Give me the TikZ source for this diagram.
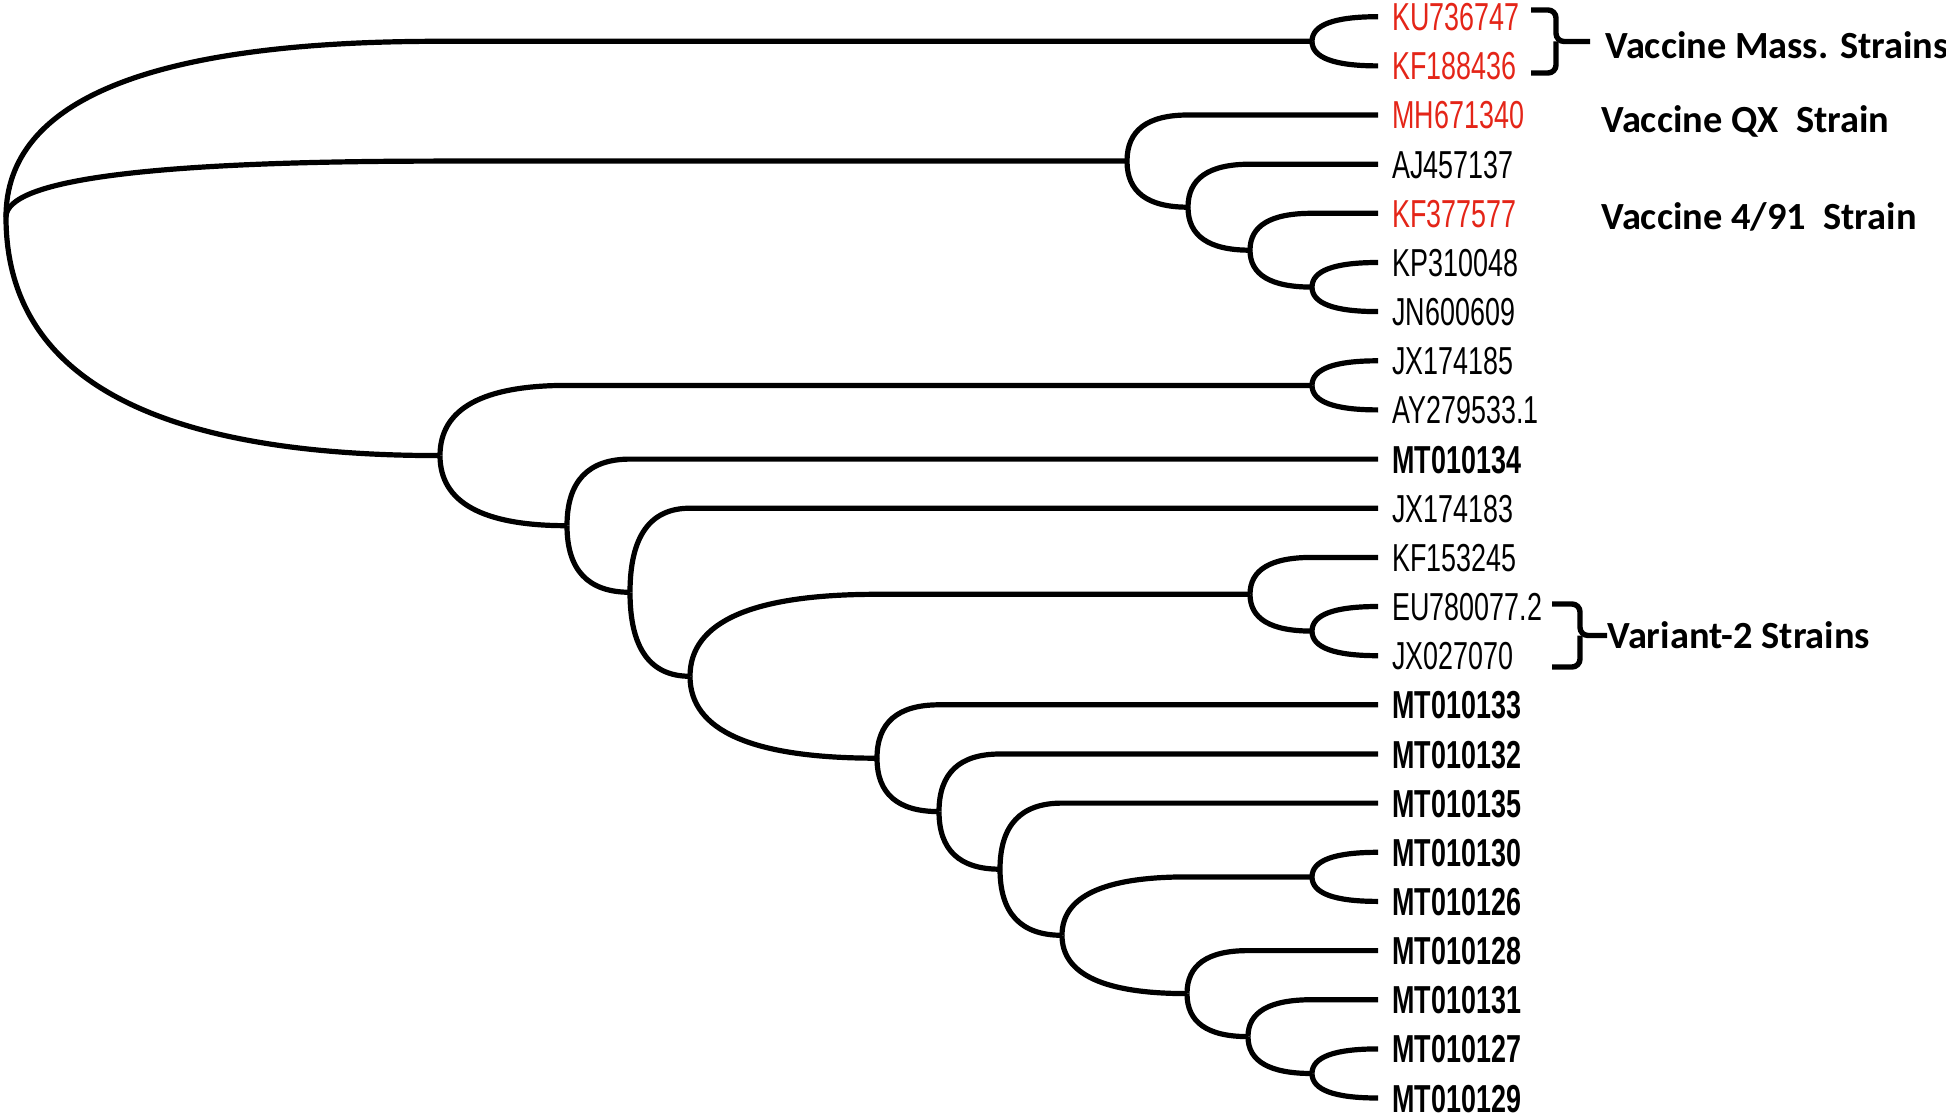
\documentclass[tikz,border=0pt]{standalone}
\usepackage{fontspec}
\setmainfont{Liberation Sans}
\newfontfamily\etiqfont[FakeStretch=0.69]{Liberation Sans}
\newfontfamily\annotfont{Carlito}
\usetikzlibrary{calc}

\definecolor{rouge}{RGB}{228,37,24}

\tikzset{
  arbre/.style={line width=2.6pt},
  accolade/.style={line width=2.7pt, rounded corners=4pt},
  feuille/.style={anchor=west, inner xsep=7pt, inner ysep=0pt, text height=14pt, text depth=0pt,
    font=\etiqfont\fontsize{19.5pt}{20pt}\selectfont},
  vaccin/.style={feuille, text=rouge},
  isolat/.style={feuille, font=\etiqfont\bfseries\fontsize{19.5pt}{20pt}\selectfont},
  groupe/.style={anchor=west, inner sep=0pt, font=\annotfont\bfseries\fontsize{19.2pt}{20pt}\selectfont}
}

% branche courbe : parent, enfant, largeur de la courbe
\newcommand{\branche}[3]{%
  \draw[arbre] (#1) .. controls ($(#1)!2/3!(#1 |- #2)$) and ($(#1 |- #2)+(#3/3,0)$) .. ($(#1 |- #2)+(#3,0)$) -- (#2);}

\begin{document}
\begin{tikzpicture}[x=0.5pt, y=-0.5pt]
    \useasboundingbox (0,0) rectangle (1946,1117);

    % Feuilles
    \node[vaccin] (l0) at (1378,16.7) {KU736747};
    \node[vaccin] (l1) at (1378,65.9) {KF188436};
    \node[vaccin] (l2) at (1378,115.0) {MH671340};
    \node[feuille] (l3) at (1378,164.2) {AJ457137};
    \node[vaccin] (l4) at (1378,213.3) {KF377577};
    \node[feuille] (l5) at (1378,262.5) {KP310048};
    \node[feuille] (l6) at (1378,311.6) {JN600609};
    \node[feuille] (l7) at (1378,360.8) {JX174185};
    \node[feuille] (l8) at (1378,409.9) {AY279533.1};
    \node[isolat] (l9) at (1378,459.1) {MT010134};
    \node[feuille] (l10) at (1378,508.2) {JX174183};
    \node[feuille] (l11) at (1378,557.4) {KF153245};
    \node[feuille] (l12) at (1378,606.5) {EU780077.2};
    \node[feuille] (l13) at (1378,655.7) {JX027070};
    \node[isolat] (l14) at (1378,704.8) {MT010133};
    \node[isolat] (l15) at (1378,754.0) {MT010132};
    \node[isolat] (l16) at (1378,803.1) {MT010135};
    \node[isolat] (l17) at (1378,852.3) {MT010130};
    \node[isolat] (l18) at (1378,901.4) {MT010126};
    \node[isolat] (l19) at (1378,950.6) {MT010128};
    \node[isolat] (l20) at (1378,999.7) {MT010131};
    \node[isolat] (l21) at (1378,1048.9) {MT010127};
    \node[isolat] (l22) at (1378,1098.0) {MT010129};

    % Noeuds internes
    \coordinate (racine) at (6,217);
    \coordinate (nMass) at (1312,41.3);
    \coordinate (nQX) at (1127,161.1);
    \coordinate (nA) at (1188,207.2);
    \coordinate (nB) at (1250,250.2);
    \coordinate (nC) at (1312,287.1);
    \coordinate (nD) at (440,455.6);
    \coordinate (nE) at (1312,385.4);
    \coordinate (nF) at (567,525.7);
    \coordinate (nG) at (630,592.3);
    \coordinate (nH) at (690,676.3);
    \coordinate (nI) at (1250,594.3);
    \coordinate (nJ) at (1312,631.1);
    \coordinate (nK) at (877,758.2);
    \coordinate (nM1) at (939,811.6);
    \coordinate (nM2) at (1000,869.2);
    \coordinate (nM3) at (1062,935.3);
    \coordinate (nL) at (1312,876.9);
    \coordinate (nM4) at (1187,993.6);
    \coordinate (nM5) at (1248,1036.6);
    \coordinate (nN) at (1312,1073.5);

    % Branches
    \foreach \p/\e/\w in {racine/nMass/434, racine/nQX/434, racine/nD/434,
        nMass/l0.west/66, nMass/l1.west/66,
        nQX/l2.west/61, nQX/nA/61, nA/l3.west/62, nA/nB/62,
        nB/l4.west/62, nB/nC/62, nC/l5.west/66, nC/l6.west/66,
        nD/nE/127, nD/nF/127, nE/l7.west/66, nE/l8.west/66,
        nF/l9.west/63, nF/nG/63, nG/l10.west/60, nG/nH/60,
        nH/nI/187, nH/nK/187, nI/l11.west/62, nI/nJ/62,
        nJ/l12.west/66, nJ/l13.west/66,
        nK/l14.west/62, nK/nM1/62, nM1/l15.west/61, nM1/nM2/61,
        nM2/l16.west/62, nM2/nM3/62, nM3/nL/125, nM3/nM4/125,
        nL/l17.west/66, nL/l18.west/66,
        nM4/l19.west/61, nM4/nM5/61, nM5/l20.west/64, nM5/nN/64,
        nN/l21.west/66, nN/l22.west/66}
        \branche{\p}{\e}{\w};

    % Groupes
    \node[groupe] (gMass) at (1605,44.7) {Vaccine Mass. Strains};
    \node[groupe] (gQX) at (1601,121.6) {Vaccine QX\ \ Strain};
    \node[groupe] (g491) at (1601,217) {Vaccine 4/91\ \ Strain};
    \node[groupe] (gVar) at (1607,635.5) {Variant-2 Strains};

    % Accolades
    \draw[accolade] (1531,10) -- (1556,10) -- (1556,41.5) -- (1590,41.5);
    \draw[accolade] (1531,73) -- (1556,73) -- (1556,41.5);
    \draw[accolade] (1552,604) -- (1580,604) -- (1580,635.5) -- (gVar.west);
    \draw[accolade] (1552,667) -- (1580,667) -- (1580,635.5);
\end{tikzpicture}
\end{document}
